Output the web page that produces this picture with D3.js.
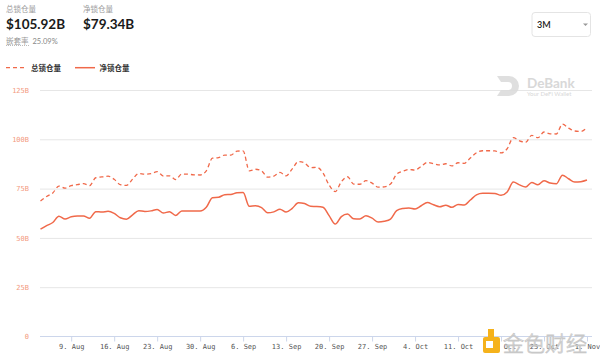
<!DOCTYPE html>
<html><head><meta charset="utf-8">
<script src="https://cdn.jsdelivr.net/npm/d3@7"></script>
<style>
html,body{margin:0;padding:0;background:#fff;}
svg{display:block;}
</style></head>
<body>
<script>
// ---- data ----
const startDate = "2021-08-04";
const totalLocked = [68.7,71.0,72.8,76.3,75.2,76.5,77.0,77.5,76.5,80.5,
  80.9,81.3,79.7,77.0,76.6,79.8,82.7,82.3,82.6,83.6,
  81.4,81.5,79.6,82.4,82.3,82.0,81.9,84.0,90.4,90.7,
  92.0,92.0,94.0,94.1,84.0,84.8,84.0,80.8,81.3,83.2,
  81.5,85.0,88.7,88.0,85.6,85.8,83.0,76.8,73.5,78.5,
  81.0,77.3,77.2,79.0,77.8,75.7,75.9,77.3,82.3,83.8,
  84.7,84.4,86.3,88.3,87.6,87.0,87.6,86.5,88.1,87.8,
  90.5,93.2,94.2,94.2,94.1,93.1,95.2,100.8,99.2,98.5,
  102.0,100.8,103.7,102.8,102.7,107.7,105.7,104.2,104.0,105.92];
const netLocked = [54.4,56.2,57.8,61.0,59.6,60.7,61.1,61.1,60.0,63.3,
  63.1,63.5,62.4,60.2,59.5,61.7,63.8,63.4,63.7,64.4,
  62.6,63.3,61.4,63.7,63.6,63.6,63.6,65.5,70.4,70.6,
  71.9,72.0,72.9,73.0,66.0,66.3,65.4,62.7,63.2,64.5,
  63.1,65.0,67.8,67.4,66.0,65.9,65.5,61.3,57.0,60.8,
  62.1,59.7,59.6,61.2,60.0,58.0,58.4,59.5,63.8,64.9,
  65.2,64.7,66.3,67.9,66.8,65.8,66.6,65.5,67.0,66.7,
  69.2,71.8,72.6,72.6,72.5,71.6,73.3,78.3,76.9,75.8,
  78.1,77.0,79.0,77.8,77.4,81.8,80.0,78.3,78.5,79.34];
const xTickDates = ["2021-08-09","2021-08-16","2021-08-23","2021-08-30","2021-09-06","2021-09-13",
  "2021-09-20","2021-09-27","2021-10-04","2021-10-11","2021-10-18","2021-10-25","2021-11-01"];
const xTickLabels = ["9. Aug","16. Aug","23. Aug","30. Aug","6. Sep","13. Sep",
  "20. Sep","27. Sep","4. Oct","11. Oct","18. Oct","25. Oct","1. Nov"];
const yTickValues = [0,25,50,75,100,125];
const yTickLabels = ["0","25B","50B","75B","100B","125B"];
const seriesNames = ["总锁仓量","净锁仓量"];
const headerLabels = ["总锁仓量","净锁仓量"];
const headerValues = ["$105.92B","$79.34B"];
const ratioLabel = "嵌套率";
const ratioValue = "25.09%";
const rangeOption = "3M";

// ---- chart ----
const W = 600, H = 361;
const parse = d3.utcParse("%Y-%m-%d");
const start = parse(startDate);
const dates = totalLocked.map((_, i) => d3.utcDay.offset(start, i));

const svg = d3.select("body").append("svg").attr("width", W).attr("height", H);

const x = d3.scaleUtc().domain([dates[0], dates[dates.length - 1]]).range([40.5, 587]);
const y = d3.scaleLinear().domain([0, 125]).range([336.5, 90]);

const lineColor = "#f0694a";
const mono = "'DejaVu Sans Mono','Liberation Mono',monospace";
const sans = "Lato,'Noto Sans CJK SC','Noto Sans',sans-serif";

// gridlines
const gridAxis = d3.axisLeft(y).tickValues(yTickValues.filter(v => v > 0)).tickSize(-(592 - 40)).tickFormat("");
svg.append("g").attr("transform", "translate(40,0)").call(gridAxis)
  .call(g => g.select(".domain").remove())
  .call(g => g.selectAll("line").attr("stroke", "#e6e6e6").attr("stroke-width", 1));

// y labels
const yAxis = d3.axisLeft(y).tickValues(yTickValues).tickSize(0).tickPadding(0)
  .tickFormat((d, i) => yTickLabels[i]);
svg.append("g").attr("transform", "translate(29,0)").call(yAxis)
  .call(g => g.select(".domain").remove())
  .call(g => g.selectAll("text").attr("fill", "#f39a80").attr("font-family", mono).attr("font-size", 7));

// x axis
const xTicks = xTickDates.map(parse);
const xAxis = d3.axisBottom(x).tickValues(xTicks).tickSize(5).tickPadding(3)
  .tickFormat((d, i) => xTickLabels[i]);
const xg = svg.append("g").attr("transform", "translate(0,336.5)").call(xAxis);
xg.select(".domain").attr("d", "M40,0H592").attr("stroke", "#ccd6eb");
xg.selectAll("line").attr("stroke", "#ccd6eb");
xg.selectAll("text").attr("fill", "#555").attr("font-family", mono).attr("font-size", 7);

// DeBank watermark
const wm = svg.append("g").attr("opacity", 0.9);
wm.append("path").attr("d", "M497,76 h12 a10,10 0 0 1 0,20 h-12 l4,-6 h7 a4,4 0 0 0 0,-8 h-7 z").attr("fill", "#dcdcdc");
wm.append("text").attr("x", 527).attr("y", 87.5).text("DeBank")
  .attr("font-family", sans).attr("font-weight", 700).attr("font-size", 13.5).attr("fill", "#d4d4d4");
wm.append("text").attr("x", 527).attr("y", 96).text("Your DeFi Wallet")
  .attr("font-family", sans).attr("font-size", 6).attr("fill", "#d4d4d4");

// lines
const line = d3.line().x((d, i) => x(dates[i])).y(d => y(d)).curve(d3.curveMonotoneX);
svg.append("path").datum(totalLocked).attr("d", line).attr("fill", "none")
  .attr("stroke", lineColor).attr("stroke-width", 1.3).attr("stroke-dasharray", "4,3");
svg.append("path").datum(netLocked).attr("d", line).attr("fill", "none")
  .attr("stroke", lineColor).attr("stroke-width", 1.5);

// header
headerLabels.forEach((lab, i) => {
  const x0 = i === 0 ? 6 : 83;
  svg.append("text").attr("x", x0).attr("y", 12).text(lab)
    .attr("font-family", sans).attr("font-size", 7.5).attr("fill", "#9a9a9a");
  svg.append("text").attr("x", x0).attr("y", 28.5).text(headerValues[i])
    .attr("font-family", sans).attr("font-weight", 700).attr("font-size", 13.5).attr("fill", "#1a1a1a");
});
svg.append("text").attr("x", 6).attr("y", 43.5).text(ratioLabel)
  .attr("font-family", sans).attr("font-size", 7.5).attr("fill", "#9a9a9a");
svg.append("line").attr("x1", 6).attr("x2", 29).attr("y1", 45.5).attr("y2", 45.5)
  .attr("stroke", "#bbb").attr("stroke-dasharray", "1,1");
svg.append("text").attr("x", 32.5).attr("y", 43.5).text(ratioValue)
  .attr("font-family", sans).attr("font-size", 7.5).attr("fill", "#888");

// dropdown
svg.append("rect").attr("x", 532).attr("y", 12.5).attr("width", 58.5).attr("height", 24).attr("rx", 3)
  .attr("fill", "#fff").attr("stroke", "#e4e4e4");
svg.append("text").attr("x", 537).attr("y", 27.5).text(rangeOption)
  .attr("font-family", sans).attr("font-weight", 600).attr("font-size", 9).attr("fill", "#222");
svg.append("path").attr("d", "M583,23.5 l2.5,2.5 l2.5,-2.5 z").attr("fill", "#999");

// legend
svg.append("line").attr("x1", 6).attr("x2", 25).attr("y1", 67.7).attr("y2", 67.7)
  .attr("stroke", lineColor).attr("stroke-width", 1.3).attr("stroke-dasharray", "4,3");
svg.append("text").attr("x", 31).attr("y", 70.5).text(seriesNames[0])
  .attr("font-family", sans).attr("font-weight", 700).attr("font-size", 7.5).attr("fill", "#333");
svg.append("line").attr("x1", 75).attr("x2", 95).attr("y1", 67.7).attr("y2", 67.7)
  .attr("stroke", lineColor).attr("stroke-width", 1.5);
svg.append("text").attr("x", 99.5).attr("y", 70.5).text(seriesNames[1])
  .attr("font-family", sans).attr("font-weight", 700).attr("font-size", 7.5).attr("fill", "#333");

// 金色财经 watermark
const jw = svg.append("g");
jw.append("rect").attr("x", 483).attr("y", 337).attr("width", 17).attr("height", 16).attr("rx", 2).attr("fill", "#f5b21b");
jw.append("rect").attr("x", 488).attr("y", 329).attr("width", 6).attr("height", 13).attr("fill", "#f5b21b");
jw.append("rect").attr("x", 486).attr("y", 341).attr("width", 7).attr("height", 7).attr("fill", "#fff");
jw.append("text").attr("x", 503).attr("y", 351).text("金色财经")
  .attr("font-family", "'Noto Sans CJK SC',sans-serif").attr("font-size", 21).attr("font-weight", 300)
  .attr("fill", "rgba(255,255,255,0.6)").attr("stroke", "#c8c8c8").attr("stroke-width", 0.8);
</script>
</body></html>
